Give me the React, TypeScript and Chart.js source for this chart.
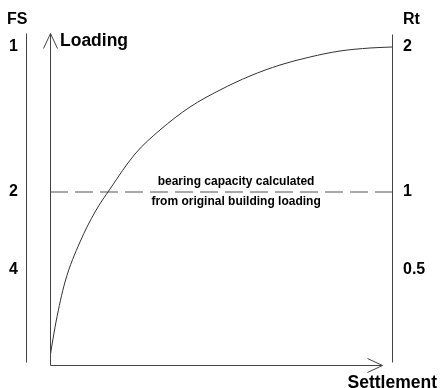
import React, { useEffect, useRef } from "react";
import { Chart, registerables } from "chart.js";

Chart.register(...registerables);

// Settlement (x, 0-100) and Loading (y, 0-100)
const settlement = [0, 0.58, 1.75, 4.39, 8.77, 13.16, 17.54, 24.85, 32.16, 40.94, 49.71, 58.48, 67.25, 76.02, 84.8, 93.57, 100];
const loading = [2.41, 6.02, 12.95, 25.0, 37.05, 46.08, 53.01, 63.55, 70.78, 77.71, 82.83, 87.05, 90.36, 92.77, 94.58, 95.48, 95.78];

// reference (dashed) level: bearing capacity from original building loading
const refLevel = 52.1;
const refLabels = ["bearing capacity calculated", "from original building loading"];

// side scales
const tickLevels = [95.8, 52.1, 28.6];
const fsLabels = ["1", "2", "4"];
const rtLabels = ["2", "1", "0.5"];

const FONT = "'Liberation Sans', Arial, sans-serif";

const decorPlugin = {
  id: "decor",
  afterDatasetsDraw(chart: any) {
    const { ctx } = chart;
    const xs = chart.scales.x;
    const ys = chart.scales.y;
    const px = (v: number) => xs.getPixelForValue(v);
    const py = (v: number) => ys.getPixelForValue(v);
    ctx.save();
    ctx.strokeStyle = "#444";
    ctx.lineWidth = 1;
    const line = (x1: number, y1: number, x2: number, y2: number) => {
      ctx.beginPath();
      ctx.moveTo(Math.round(x1) + 0.5, Math.round(y1) + 0.5);
      ctx.lineTo(Math.round(x2) + 0.5, Math.round(y2) + 0.5);
      ctx.stroke();
    };
    // left FS line
    line(px(-7), py(100), px(-7), py(0.9));
    // right Rt line
    line(px(100), py(99.7), px(100), py(0.9));
    // y axis with arrow
    const x0 = px(0);
    const yTop = py(100);
    const y0 = py(0);
    line(x0, yTop, x0, y0);
    line(x0, yTop, x0 - 7, yTop + 15);
    line(x0, yTop, x0 + 7, yTop + 15);
    // x axis with arrow
    const xTip = px(97.1);
    line(x0, y0, xTip, y0);
    line(xTip, y0, xTip - 15, y0 - 7);
    line(xTip, y0, xTip - 15, y0 + 7);

    ctx.fillStyle = "#000";
    ctx.textBaseline = "middle";
    // titles
    ctx.font = `bold 16px ${FONT}`;
    ctx.textAlign = "left";
    ctx.fillText("FS", 7, 20);
    ctx.fillText("Rt", px(100) + 11, 20);
    // tick labels
    tickLevels.forEach((v, i) => {
      ctx.fillText(fsLabels[i], 9, py(v));
      ctx.fillText(rtLabels[i], px(100) + 11, py(v));
    });
    // axis titles
    ctx.font = `bold 17.5px ${FONT}`;
    ctx.fillText("Loading", x0 + 10, yTop + 8);
    ctx.textAlign = "right";
    ctx.fillText("Settlement", 437, y0 + 18);
    // dashed-line annotation
    ctx.font = `bold 12px ${FONT}`;
    ctx.textAlign = "center";
    const cx = px(54.4);
    ctx.fillText(refLabels[0], cx, py(refLevel) - 10);
    ctx.fillText(refLabels[1], cx, py(refLevel) + 10);
    ctx.restore();
  },
};

export default function App() {
  const ref = useRef<HTMLCanvasElement>(null);
  useEffect(() => {
    if (!ref.current) return;
    const chart = new Chart(ref.current, {
      type: "line",
      data: {
        datasets: [
          {
            data: settlement.map((x, i) => ({ x, y: loading[i] })),
            borderColor: "#333",
            borderWidth: 1,
            pointRadius: 0,
            cubicInterpolationMode: "monotone",
            fill: false,
          },
          {
            data: [
              { x: 0, y: refLevel },
              { x: 100, y: refLevel },
            ],
            borderColor: "#8c8c8c",
            borderWidth: 1.6,
            borderDash: [18, 7],
            pointRadius: 0,
            fill: false,
          },
        ],
      },
      options: {
        responsive: false,
        animation: false,
        layout: { padding: { left: 50, right: 49, top: 33, bottom: 23 } },
        plugins: { legend: { display: false }, tooltip: { enabled: false } },
        scales: {
          x: { type: "linear", min: 0, max: 100, display: false },
          y: { type: "linear", min: 0, max: 100, display: false },
        },
      },
      plugins: [
        decorPlugin,
        {
          id: "bg",
          beforeDraw(c: any) {
            const g = c.ctx;
            g.save();
            g.fillStyle = "#fff";
            g.fillRect(0, 0, c.width, c.height);
            g.restore();
          },
        },
      ],
    } as any);
    return () => chart.destroy();
  }, []);
  return (
    <div style={{ position: "absolute", left: 0, top: 0, width: 441, height: 388, background: "#fff" }}>
      <canvas ref={ref} width={441} height={388} />
    </div>
  );
}
